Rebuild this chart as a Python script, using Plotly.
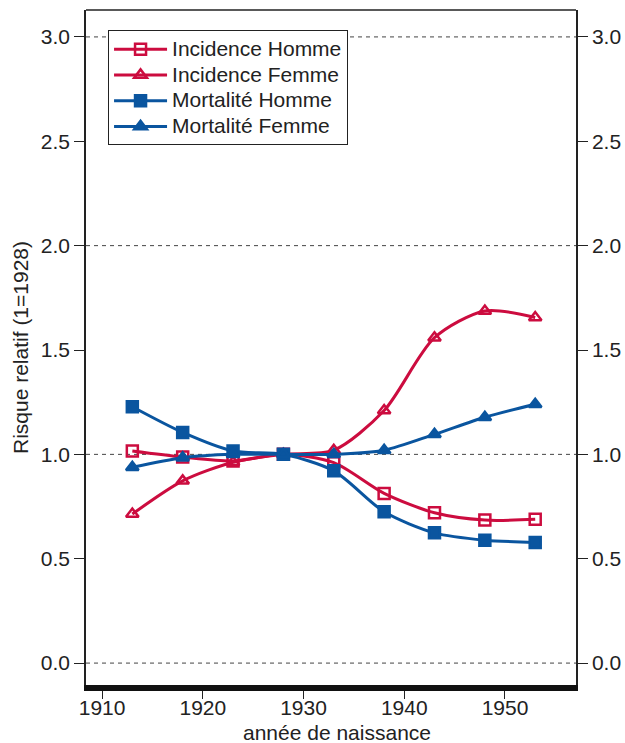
import plotly.graph_objects as go

# Birth cohorts and relative risk (reference cohort 1928 = 1)
annees = [1913, 1918, 1923, 1928, 1933, 1938, 1943, 1948, 1953]
incidence_homme = [1.016, 0.987, 0.968, 1.0, 0.96, 0.813, 0.72, 0.685, 0.689]
incidence_femme = [0.714, 0.873, 0.962, 1.0, 1.02, 1.21, 1.559, 1.687, 1.656]
mortalite_homme = [1.228, 1.105, 1.016, 1.0, 0.921, 0.725, 0.624, 0.589, 0.578]
mortalite_femme = [0.938, 0.984, 1.0, 1.0, 1.0, 1.02, 1.096, 1.178, 1.24]

x_ticks = [1910, 1920, 1930, 1940, 1950]
y_ticks = [0.0, 0.5, 1.0, 1.5, 2.0, 2.5, 3.0]
grid_levels = [0.0, 1.0, 2.0, 3.0]

X_RANGE = [1908.4, 1957.05]
Y_RANGE = [-0.105, 3.129]

ROUGE = "#cc0c3f"
BLEU = "#0a559f"
FONT = "Liberation Sans, Arial, Helvetica, sans-serif"
INK = "#222222"

series = [
    ("Incidence Homme", incidence_homme, ROUGE, "square-open"),
    ("Incidence Femme", incidence_femme, ROUGE, "triangle-up-open"),
    ("Mortalité Homme", mortalite_homme, BLEU, "square"),
    ("Mortalité Femme", mortalite_femme, BLEU, "triangle-up"),
]

fig = go.Figure()

# dashed reference lines at whole values
for g in grid_levels:
    fig.add_trace(go.Scatter(
        x=X_RANGE, y=[g, g], mode="lines",
        line=dict(color="#444444", width=1, dash="4px,4px"),
        showlegend=False, hoverinfo="skip",
    ))

for name, vals, col, sym in series:
    fig.add_trace(go.Scatter(
        x=annees, y=vals, mode="lines+markers",
        name=f"<span style='font-size:21px'>{name}</span>",
        line=dict(color=col, width=3, shape="spline", smoothing=0.8),
        marker=dict(symbol=sym, size=11, color=col,
                    line=dict(color=col, width=2.5)),
    ))

# invisible trace carrying the right-hand axis
fig.add_trace(go.Scatter(x=[1930], y=[1], yaxis="y2", mode="markers",
                         marker=dict(opacity=0), showlegend=False,
                         hoverinfo="skip"))

axis_font = dict(family=FONT, size=21, color=INK)
common_y = dict(
    range=Y_RANGE, tickvals=y_ticks,
    ticktext=[f"{v:.1f}" for v in y_ticks],
    showgrid=False, zeroline=False, automargin=False,
    showline=True, linecolor=INK, linewidth=1.5,
    ticks="outside", ticklen=10, tickwidth=1.2, tickcolor=INK,
    tickfont=axis_font,
)

fig.update_layout(
    width=625, height=743,
    margin=dict(l=86, r=49, t=10, b=58),
    plot_bgcolor="white", paper_bgcolor="white",
    font=axis_font,
    showlegend=True,
    legend=dict(
        x=0.045, y=0.97, xanchor="left", yanchor="top",
        bordercolor=INK, borderwidth=1, bgcolor="white",
        font=dict(family=FONT, size=17.5, color=INK),
        itemwidth=53, tracegroupgap=0,
    ),
    xaxis=dict(
        range=X_RANGE, tickvals=x_ticks,
        ticktext=[str(v) for v in x_ticks],
        showgrid=False, zeroline=False, automargin=False,
        showline=True, linecolor="#111111", linewidth=6,
        ticks="outside", ticklen=8, tickwidth=1.2, tickcolor=INK,
        ticklabelstandoff=-9,
        tickfont=axis_font,
    ),
    yaxis=dict(
        title=dict(text="Risque relatif (1=1928)", font=axis_font, standoff=6),
        **common_y,
    ),
    yaxis2=dict(overlaying="y", side="right", matches="y", **common_y),
    shapes=[dict(type="line", xref="paper", yref="paper", x0=0, x1=1,
                 y0=1, y1=1, line=dict(color=INK, width=1.5))],
    annotations=[dict(
        text="année de naissance", xref="paper", yref="paper",
        x=0.512, y=0, xanchor="center", yanchor="top", yshift=-34,
        showarrow=False, font=axis_font,
    )],
)

fig.write_html("out.html")
